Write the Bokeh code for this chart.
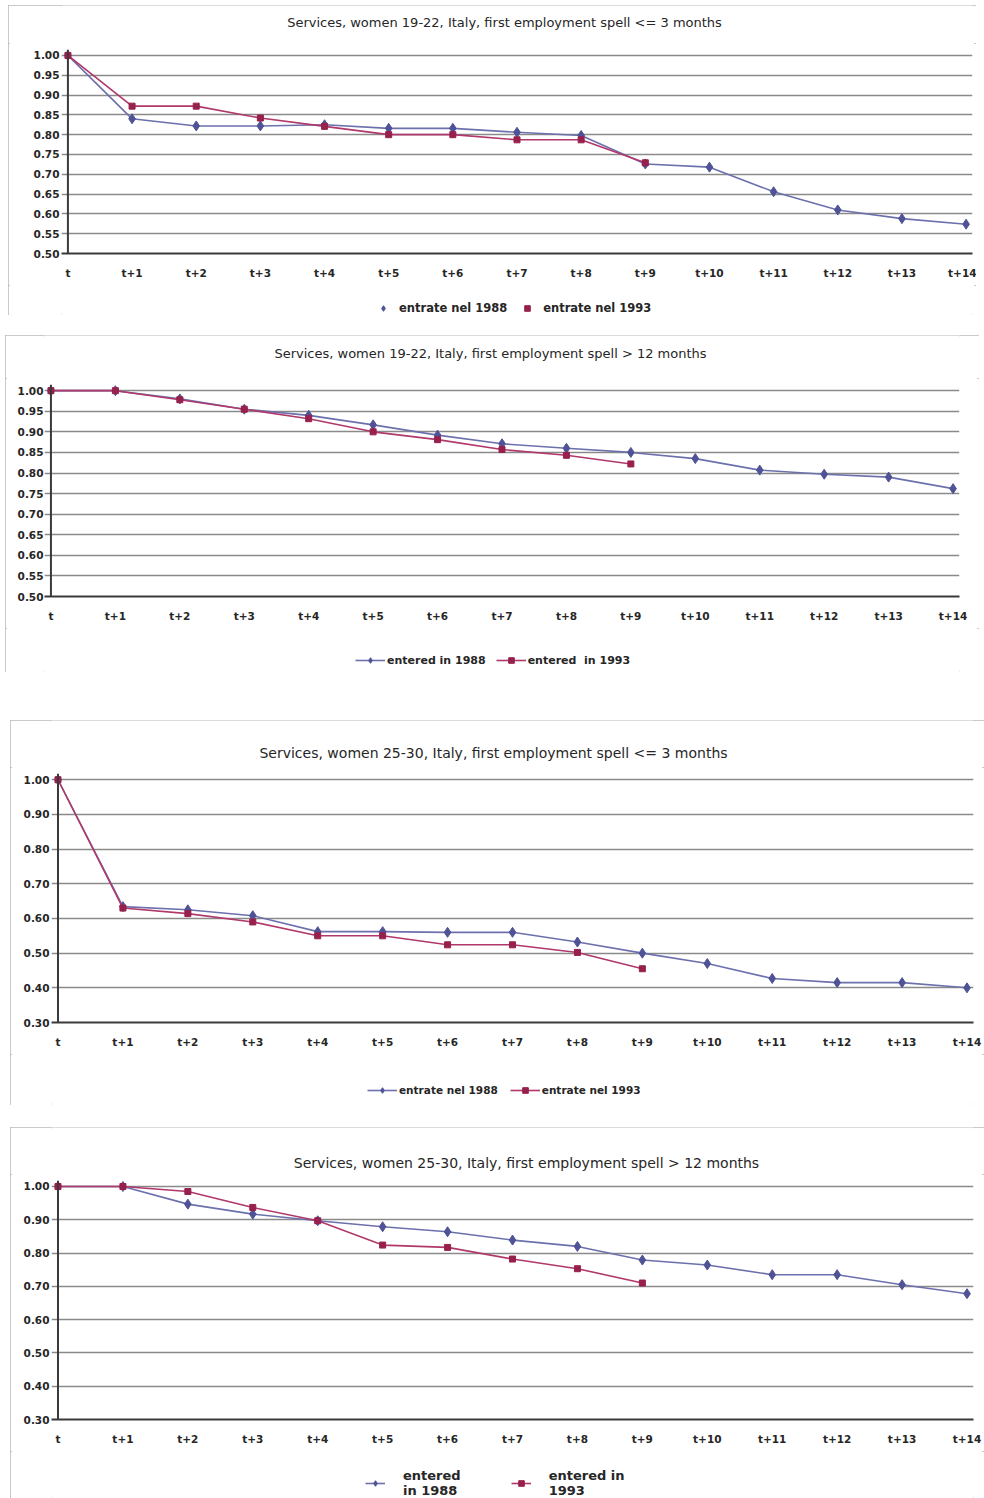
from bokeh.plotting import figure
from bokeh.models import Range1d, FixedTicker, Legend, LegendItem, Span, NumeralTickFormatter, Spacer, Label
from bokeh.layouts import column, row
from bokeh.embed import file_html
from bokeh.resources import INLINE

# ---------------- data ----------------
x_labels = ["t", "t+1", "t+2", "t+3", "t+4", "t+5", "t+6", "t+7",
            "t+8", "t+9", "t+10", "t+11", "t+12", "t+13", "t+14"]

yticks_005 = [0.50, 0.55, 0.60, 0.65, 0.70, 0.75, 0.80, 0.85, 0.90, 0.95, 1.00]
yticks_010 = [0.30, 0.40, 0.50, 0.60, 0.70, 0.80, 0.90, 1.00]

title1 = "Services, women 19-22, Italy, first employment spell <= 3 months"
title2 = "Services, women 19-22, Italy, first employment spell > 12 months"
title3 = "Services, women 25-30, Italy, first employment spell <= 3 months"
title4 = "Services, women 25-30, Italy, first employment spell > 12 months"

legend_it = ["entrate nel 1988", "entrate nel 1993"]
legend_en = ["entered in 1988", "entered  in 1993"]
legend_en_wrapped = ["entered\nin 1988", "entered in\n1993"]

c1_1988 = [1.00, 0.840, 0.822, 0.822, 0.825, 0.816, 0.816, 0.806, 0.798, 0.726, 0.718, 0.656, 0.610, 0.588, 0.574]
c1_1993 = [1.00, 0.872, 0.872, 0.842, 0.821, 0.800, 0.800, 0.787, 0.787, 0.729]

c2_1988 = [1.00, 1.00, 0.980, 0.955, 0.940, 0.917, 0.892, 0.871, 0.860, 0.850, 0.835, 0.807, 0.797, 0.790, 0.762]
c2_1993 = [1.00, 1.00, 0.978, 0.955, 0.932, 0.900, 0.881, 0.857, 0.843, 0.822]

c3_1988 = [1.00, 0.634, 0.625, 0.608, 0.562, 0.562, 0.560, 0.560, 0.532, 0.500, 0.470, 0.427, 0.415, 0.415, 0.400]
c3_1993 = [1.00, 0.630, 0.614, 0.590, 0.550, 0.550, 0.524, 0.524, 0.502, 0.455]

c4_1988 = [1.00, 1.00, 0.947, 0.917, 0.897, 0.879, 0.864, 0.839, 0.820, 0.779, 0.764, 0.735, 0.735, 0.705, 0.678]
c4_1993 = [1.00, 1.00, 0.985, 0.937, 0.897, 0.824, 0.817, 0.782, 0.753, 0.710]

# ---------------- style ----------------
BLUE_LINE = "#6c70ad"
BLUE_MARK = "#4f5396"
RED_LINE = "#b0386a"
RED_MARK = "#97204c"
GRID = "#8a8a8a"
AXIS = "#3a3a3a"
FONT = "DejaVu Sans"
TEXT = "#262626"


def blank_fig(w, h):
    q = figure(width=w, height=h, x_range=Range1d(0, 1), y_range=Range1d(0, 1),
               output_backend="svg", toolbar_location=None,
               x_axis_location=None, y_axis_location=None, min_border=0)
    q.grid.visible = False
    q.outline_line_color = None
    q.background_fill_color = "white"
    q.border_fill_color = "white"
    return q


def make_header(title, g):
    q = blank_fig(g["w"], g["hh"])
    q.add_layout(Label(x=g["tx"], y=g["ty"], x_units="screen", y_units="screen",
                       text=title, text_align="center", text_baseline="middle",
                       text_font=FONT, text_font_size=g["tfs"], text_color=TEXT))
    return q


def make_main(s1988, s1993, yticks, g):
    xpad, ypad = g["xpad"], g["ypad"]
    p = figure(width=g["w"], height=g["h"],
               x_range=Range1d(-xpad, len(x_labels) - 1 + xpad),
               y_range=Range1d(yticks[0], yticks[-1] + ypad),
               output_backend="svg", toolbar_location=None,
               min_border_left=g["l"], min_border_right=g["r"],
               min_border_top=6, min_border_bottom=32)
    p.background_fill_color = "white"
    p.border_fill_color = "white"
    p.outline_line_color = None

    xa = p.xaxis[0]
    xa.ticker = FixedTicker(ticks=list(range(len(x_labels))))
    xa.major_label_overrides = {i: lab for i, lab in enumerate(x_labels)}
    xa.major_tick_line_color = None
    xa.major_tick_out = 0
    xa.major_tick_in = 0
    xa.minor_tick_line_color = None
    xa.axis_line_color = AXIS
    xa.axis_line_width = 2
    xa.major_label_standoff = 13
    xa.major_label_text_font = FONT
    xa.major_label_text_font_size = "10.5px"
    xa.major_label_text_font_style = "bold"
    xa.major_label_text_color = TEXT

    ya = p.yaxis[0]
    ya.ticker = FixedTicker(ticks=yticks)
    ya.formatter = NumeralTickFormatter(format="0.00")
    ya.major_tick_line_color = None
    ya.major_tick_out = 0
    ya.major_tick_in = 0
    ya.minor_tick_line_color = None
    ya.axis_line_color = None
    ya.major_label_standoff = g["ys"]
    ya.major_label_text_font = FONT
    ya.major_label_text_font_size = "10.5px"
    ya.major_label_text_font_style = "bold"
    ya.major_label_text_color = TEXT

    p.xgrid.grid_line_color = None
    p.ygrid.ticker = FixedTicker(ticks=yticks)
    p.ygrid.grid_line_color = GRID
    p.ygrid.grid_line_width = 1.7

    p.add_layout(Span(location=0, dimension="height", line_color=AXIS, line_width=2))

    x1 = list(range(len(s1988)))
    x2 = list(range(len(s1993)))
    p.line(x1, s1988, line_color=BLUE_LINE, line_width=1.6)
    p.scatter(x1, s1988, marker="diamond", size=10, fill_color=BLUE_MARK, line_color=BLUE_MARK)
    p.line(x2, s1993, line_color=RED_LINE, line_width=1.6)
    p.scatter(x2, s1993, marker="square", size=6, fill_color=RED_MARK, line_color=RED_MARK)
    return p


def make_legend(s1988, s1993, names, g, marker_only=False):
    # the same series are drawn here outside the visible range, only to feed the legend
    q = blank_fig(g["w"], g["lh"])
    q.y_range = Range1d(5, 6)
    x1 = list(range(len(s1988)))
    x2 = list(range(len(s1993)))
    lb = q.line(x1, s1988, line_color=BLUE_LINE, line_width=1.6)
    mb = q.scatter(x1, s1988, marker="diamond", size=10, fill_color=BLUE_MARK, line_color=BLUE_MARK)
    lr = q.line(x2, s1993, line_color=RED_LINE, line_width=1.6)
    mr = q.scatter(x2, s1993, marker="square", size=6, fill_color=RED_MARK, line_color=RED_MARK)
    if marker_only:
        r1, r2 = [mb], [mr]
    else:
        r1, r2 = [lb, mb], [lr, mr]
    legend = Legend(items=[LegendItem(label=names[0], renderers=r1),
                           LegendItem(label=names[1], renderers=r2)],
                    orientation="horizontal", location=(g["lx"], g["ly"]),
                    margin=0, padding=3, spacing=g.get("lsp", 10),
                    glyph_width=g.get("gw", 30), glyph_height=14,
                    label_height=14, label_standoff=g.get("lso", 2),
                    label_text_font=FONT, label_text_font_size=g.get("lfs", "10.5px"),
                    label_text_font_style="bold", label_text_color=TEXT,
                    border_line_color=None, background_fill_alpha=0)
    q.add_layout(legend, "center")
    return q


def make_box(title, s1988, s1993, names, yticks, g, marker_only=False):
    head = make_header(title, g)
    main = make_main(s1988, s1993, yticks, g)
    leg = make_legend(s1988, s1993, names, g, marker_only)
    box = column(head, main, leg)
    box.styles = {"outline": "2px solid #b9b9b9", "outline-offset": "-2px"}
    return box


b1 = make_box(title1, c1_1988, c1_1993, legend_it, yticks_005,
              dict(w=968, hh=38, h=242, l=53, r=4, xpad=0.1, ypad=0.015, ys=2,
                   tx=443, ty=21, tfs="13px",
                   lh=30, lx=314, ly=0, gw=16, lso=8, lsp=12, lfs="11.5px"),
              marker_only=True)
b2 = make_box(title2, c2_1988, c2_1993, legend_en, yticks_005,
              dict(w=974, hh=43, h=250, l=39, r=20, xpad=0.1, ypad=0.015, ys=1,
                   tx=446, ty=25, tfs="13px",
                   lh=44, lx=311, ly=5, lfs="11px"))
b3 = make_box(title3, c3_1988, c3_1993, legend_it, yticks_010,
              dict(w=974, hh=47, h=287, l=41, r=11, xpad=0.1, ypad=0.018, ys=2,
                   tx=442, ty=15, tfs="14px",
                   lh=51, lx=316, ly=8, lfs="10.5px", lsp=12))
b4 = make_box(title4, c4_1988, c4_1993, legend_en_wrapped, yticks_010,
              dict(w=974, hh=47, h=277, l=41, r=11, xpad=0.1, ypad=0.018, ys=2,
                   tx=475, ty=12, tfs="14px",
                   lh=47, lx=314, ly=0, gw=20, lso=18, lsp=50, lfs="13px"))

layout = column(
    Spacer(height=5, width=10),
    row(Spacer(width=8, height=10), b1),
    Spacer(height=20, width=10),
    row(Spacer(width=5, height=10), b2),
    Spacer(height=48, width=10),
    row(Spacer(width=10, height=10), b3),
    Spacer(height=22, width=10),
    row(Spacer(width=10, height=10), b4),
)
open("out.html", "w").write(file_html(layout, INLINE))
